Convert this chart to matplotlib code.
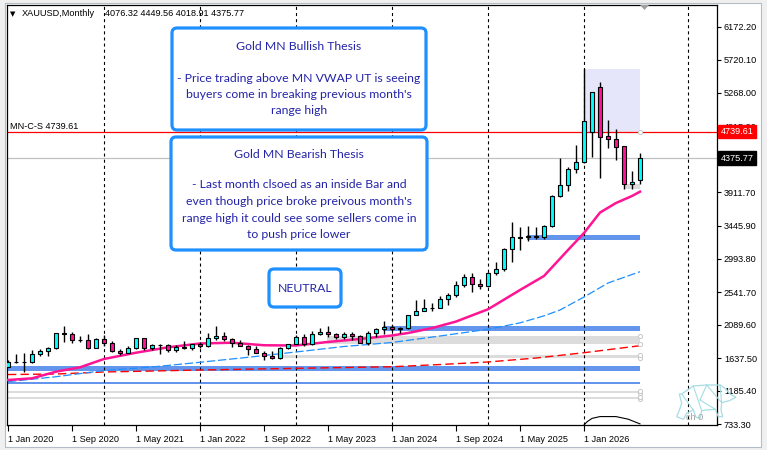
import matplotlib
matplotlib.use('Agg')
import matplotlib.pyplot as plt
from matplotlib.patches import FancyBboxPatch, Rectangle, Polygon
import numpy as np
import pandas as pd

plt.rcParams['lines.scale_dashes'] = False

# ---- dados: velas mensais XAUUSD (jan/2020 ...)
opens = [1517, 1589, 1585, 1577, 1686, 1730, 1781, 1975, 1968, 1886, 1879, 1777,
         1898, 1847, 1734, 1707, 1769, 1906, 1770, 1814, 1813, 1742, 1783, 1774,
         1829, 1797, 1908, 1937, 1896, 1837, 1807, 1766, 1711, 1660, 1633, 1768,
         1824, 1928, 1826, 1969, 1990, 1962, 1919, 1965, 1940, 1848, 1983, 2036,
         2062, 2039, 2044, 2229, 2286, 2327, 2326, 2447, 2503, 2634, 2743, 2650,
         2624, 2798, 2857, 3124, 3288, 3289, 3303, 3289, 3448, 3858, 4002, 4227,
         4323, 4738, 5346, 4679, 4635, 4538, 4018, 4076.32]
highs = [1611, 1689, 1703, 1747, 1765, 1789, 1983, 2075, 1993, 1933, 1965, 1906,
         1959, 1875, 1755, 1798, 1913, 1916, 1832, 1832, 1834, 1814, 1877, 1832,
         1854, 1974, 2070, 1998, 1910, 1879, 1814, 1808, 1735, 1729, 1786, 1833,
         1949, 1960, 2010, 2049, 2079, 1983, 1987, 1987, 1953, 2009, 2052, 2147,
         2088, 2066, 2223, 2431, 2450, 2388, 2484, 2532, 2686, 2790, 2802, 2726,
         2817, 2956, 3149, 3500, 3436, 3451, 3439, 3454, 3872, 4381, 4254, 4555,
         5597, 5278, 5419, 4898, 4771, 4538, 4199, 4449.56]
lows = [1517, 1563, 1451, 1568, 1671, 1671, 1757, 1863, 1849, 1860, 1764, 1776,
        1803, 1717, 1677, 1706, 1766, 1751, 1750, 1688, 1722, 1721, 1759, 1753,
        1780, 1787, 1890, 1872, 1787, 1805, 1681, 1709, 1615, 1617, 1617, 1765,
        1824, 1805, 1810, 1950, 1932, 1893, 1903, 1885, 1846, 1811, 1932, 1973,
        2002, 1984, 2039, 2229, 2277, 2287, 2319, 2365, 2472, 2604, 2537, 2583,
        2615, 2773, 2833, 2957, 3121, 3246, 3268, 3268, 3436, 3847, 3925, 4172,
        4315, 4395, 4099, 4510, 4350, 3949, 3955, 4018.91]
closes = [1589, 1586, 1577, 1686, 1730, 1781, 1976, 1968, 1887, 1879, 1777, 1898,
          1848, 1734, 1708, 1769, 1907, 1770, 1814, 1814, 1743, 1783, 1774, 1829,
          1797, 1909, 1937, 1897, 1838, 1807, 1766, 1711, 1661, 1634, 1769, 1824,
          1928, 1827, 1969, 1990, 1963, 1919, 1965, 1940, 1849, 1984, 2036, 2062,
          2040, 2044, 2230, 2286, 2327, 2327, 2448, 2503, 2635, 2744, 2650, 2625,
          2798, 2858, 3124, 3289, 3289, 3303, 3290, 3448, 3858, 4002, 4227, 4323,
          4884, 5278, 4669, 4635, 4532, 4021, 4046, 4375.77]
datas = pd.date_range('2020-01-01', periods=len(opens), freq='MS')

# linha rosa (VWAP), azul tracejada e vermelha tracejada: (barra, preço)
vwap_bar = [0, 3, 6, 9, 12, 16, 20, 24, 28, 32, 36, 40, 44, 48, 50, 53, 56, 60, 64, 67, 70, 72, 74, 76, 78, 79]
vwap_val = [1336, 1359, 1450, 1510, 1624, 1710, 1784, 1836, 1847, 1812, 1809, 1857, 1898, 1946, 1980,
            2047, 2137, 2305, 2569, 2761, 3117, 3350, 3630, 3761, 3857, 3916]
ma_azul_bar = [0, 6, 12, 18, 24, 30, 36, 42, 48, 54, 60, 64, 67, 69, 72, 75, 79]
ma_azul_val = [1313, 1381, 1466, 1514, 1579, 1647, 1720, 1795, 1850, 1939, 2031, 2119, 2215, 2295, 2473, 2665, 2820]
ma_verm_bar = [0, 6, 12, 18, 24, 36, 48, 54, 60, 66, 72, 79]
ma_verm_val = [1411, 1418, 1446, 1459, 1473, 1496, 1518, 1548, 1583, 1637, 1710, 1806]
arco_bar = [72, 72.4, 73, 74, 76, 77.5, 79]
arco_val = [720, 765, 810, 835, 835, 800, 735]

# zonas horizontais: (barra inicial, preço baixo, preço alto, cor)
zonas = [
    (65, 3254, 3323, '#6495ED'),
    (47, 2002, 2080, '#6495ED'),
    (40, 1825, 1939, '#DCDCDC'),
    (34, 1633, 1679, '#DCDCDC'),
    (0, 1463, 1528, '#6495ED'),
    (0, 1281, 1313, '#6495ED'),
    (0, 1154, 1190, '#DCDCDC'),
    (0, 1072, 1107, '#DCDCDC'),
]
nivel_mncs = 4739.61
rect_topo = 5597
caixa_cinza = (3949, 4021)

ticks_y = [6172.20, 5720.10, 5268.00, 4815.90, 3911.70, 3445.90, 2993.80, 2541.70,
           2089.60, 1637.50, 1185.40, 733.30]

FONTE = 'Liberation Sans'
TAM = 6.6
AZUL_TXT = '#2424A8'
AZUL_BORDA = '#1E90FF'

fig = plt.figure(figsize=(7.67, 4.5), dpi=100)
fig.patch.set_facecolor('white')
ax = fig.add_axes([7 / 767, 25 / 450, 710 / 767, 420 / 450])
n = len(opens)
idx = np.arange(n)
ult = n - 1

ax.set_xlim(-0.125, 88.625)
ax.set_ylim(719.6, 6473.6)

# zonas e retângulos de fundo
for ini, lo, hi, cor in zonas:
    ax.add_patch(Rectangle((ini - 0.15, lo), ult - ini + 0.15, hi - lo, color=cor, lw=0, zorder=1))
ax.add_patch(Rectangle((72, nivel_mncs), ult - 72, rect_topo - nivel_mncs, color='#E6E6FA', lw=0, zorder=1))
ax.add_patch(Rectangle((77, caixa_cinza[0]), ult - 77, caixa_cinza[1] - caixa_cinza[0],
                       color='#DCDCDC', lw=0, zorder=1))

# separadores de ano
seps = [i for i, d in enumerate(datas) if d.month == 1 and i > 0] + [85]
for s in seps:
    ax.axvline(s, color='black', lw=0.8, ls=(0, (2.2, 2.2)), zorder=2)

ax.axhline(nivel_mncs, color='red', lw=0.9, zorder=2)
ax.axhline(closes[-1], color='#C0C0C0', lw=0.9, zorder=2)

# médias
ax.plot(ma_verm_bar, ma_verm_val, color='red', lw=1.0, ls=(0, (6, 3)), zorder=3)
ax.plot(ma_azul_bar, ma_azul_val, color='#1E90FF', lw=0.9, ls=(0, (6, 2)), zorder=3)
ax.plot(vwap_bar, vwap_val, color='#FF1493', lw=1.8, zorder=3)
ax.plot(arco_bar, arco_val, color='black', lw=0.8, zorder=3)

# velas
o = np.array(opens)
c = np.array(closes)
cores = ['#00FFFF' if cc >= oo else '#FF1493' for oo, cc in zip(o, c)]
ax.vlines(idx, lows, highs, color='black', lw=1, zorder=4)
ax.bar(idx, np.abs(c - o), bottom=np.minimum(o, c), width=0.62, color=cores,
       edgecolor='black', linewidth=0.8, zorder=5)

# marcadores de âncora
for ini, lo, hi, cor in zonas:
    if cor == '#DCDCDC':
        ax.plot([ult, ult], [lo, hi], 'o', ms=3, mfc='white', mec='#C8C8C8', mew=0.7, zorder=6)
ax.plot([ult], [nivel_mncs], 'o', ms=3, mfc='white', mec='#C8C8C8', mew=0.7, zorder=6)

# eixos
for sp in ax.spines.values():
    sp.set_color('black')
    sp.set_linewidth(0.9)
ax.yaxis.tick_right()
ax.set_yticks(ticks_y)
ax.set_yticklabels([f'{v:.2f}' for v in ticks_y])
ax.tick_params(axis='y', direction='out', length=3, width=0.8, pad=2, labelsize=TAM,
               labelfontfamily=FONTE)
xt = list(range(0, n, 8))
ax.set_xticks(xt)
ax.set_xticklabels([f'{d.day} {d.strftime("%b %Y")}' for d in datas[xt]], ha='left')
ax.tick_params(axis='x', direction='out', length=4, width=0.8, pad=3, labelsize=TAM,
               labelfontfamily=FONTE)

ax.annotate(f'{nivel_mncs:.2f}', xy=(1, nivel_mncs), xycoords=('axes fraction', 'data'),
            xytext=(2.5, 0), textcoords='offset points', va='center', ha='left',
            fontsize=TAM, family=FONTE, color='white', zorder=7, annotation_clip=False,
            bbox=dict(boxstyle='square,pad=0.25', fc='red', ec='red'))
ax.annotate(f'{closes[-1]:.2f}', xy=(1, closes[-1]), xycoords=('axes fraction', 'data'),
            xytext=(2.5, 0), textcoords='offset points', va='center', ha='left',
            fontsize=TAM, family=FONTE, color='white', zorder=7, annotation_clip=False,
            bbox=dict(boxstyle='square,pad=0.25', fc='black', ec='black'))

# ---- camada em pixels para caixas de texto e moldura
ov = fig.add_axes([0, 0, 1, 1], zorder=10)
ov.set_xlim(0, 767)
ov.set_ylim(450, 0)
ov.axis('off')
ov.patch.set_alpha(0)

# moldura da janela
ov.add_patch(Rectangle((0, 0), 5, 450, color='#F0F0F0', lw=0))
ov.add_patch(Rectangle((0, 0), 767, 3, color='#F0F0F0', lw=0))
ov.add_patch(Rectangle((761, 0), 6, 450, color='#F0F0F0', lw=0))
ov.add_patch(Rectangle((0, 447), 767, 3, color='#F0F0F0', lw=0))
ov.plot([5, 5, 761, 761, 5], [3, 447, 447, 3, 3], color='#B4BCC8', lw=0.8)

ov.text(10, 14, '▼', fontsize=5, family='DejaVu Sans', va='center', ha='left')
ov.text(22, 14, 'XAUUSD,Monthly', fontsize=TAM, family=FONTE, va='center', ha='left')
ov.text(105, 14, f'{opens[-1]:.2f} {highs[-1]:.2f} {lows[-1]:.2f} {closes[-1]:.2f}',
        fontsize=TAM, family=FONTE, va='center', ha='left')
ov.text(10, 126.5, f'MN-C-S {nivel_mncs:.2f}', fontsize=TAM, family=FONTE, va='center', ha='left')
ov.add_patch(Polygon([[640, 5], [649, 5], [644.5, 10]], closed=True, color='#A0A0A0', lw=0))

caixas = [
    ((172, 28, 254, 102), [('Gold MN Bullish Thesis', 46), ('- Price trading above MN VWAP UT is seeing', 79),
                           ("buyers come in breaking previous month's", 95), ('range high', 111)]),
    ((171, 137, 256, 113), [('Gold MN Bearish Thesis', 154), ('- Last month clsoed as an inside Bar and', 185),
                            ("even though price broke preivous month's", 201.5),
                            ('range high it could see some sellers come in', 218),
                            ('to push price lower', 234.5)]),
    ((269, 269, 72, 38), [('NEUTRAL', 288)]),
]
for (x0, y0, w, h), linhas in caixas:
    ov.add_patch(FancyBboxPatch((x0, y0), w, h, boxstyle='round,pad=0,rounding_size=5',
                                fc='white', ec=AZUL_BORDA, lw=2.3))
    for txt, yy in linhas:
        ov.text(x0 + w / 2, yy, txt, fontsize=8.8, family='Lato', color=AZUL_TXT,
                ha='center', va='center')

# marca d'água (urso)
urso = [(681.7, 394), (693.3, 386), (706.7, 385), (720, 385), (725, 388.3), (730, 394), (736, 397.3),
        (729.3, 400.7), (721.7, 402.7), (721, 410), (722.7, 416.7), (718.3, 416.7), (715.3, 409.3),
        (706.7, 410), (701.7, 410.7), (700, 418.3), (696, 417.3), (693.3, 410), (686.7, 413.3),
        (683.3, 419.3), (676.7, 416.7), (680, 408.3), (681.7, 403.3), (679.3, 394)]
ov.add_patch(Polygon(urso, closed=True, fill=False, ec='#A6DDE3', lw=0.9))
for a, b in [((693.3, 386), (701.7, 410.7)), ((706.7, 385), (700, 400)), ((700, 400), (715.3, 409.3)),
             ((720, 385), (721.7, 402.7)), ((681.7, 394), (693.3, 410)), ((706.7, 385), (721.7, 402.7))]:
    ov.plot([a[0], b[0]], [a[1], b[1]], color='#A6DDE3', lw=0.8)
ov.text(695, 417, 'ch 0', fontsize=TAM, family=FONTE, color='#A0A0A0', va='center', ha='center')

fig.savefig('out.png', dpi=100)
